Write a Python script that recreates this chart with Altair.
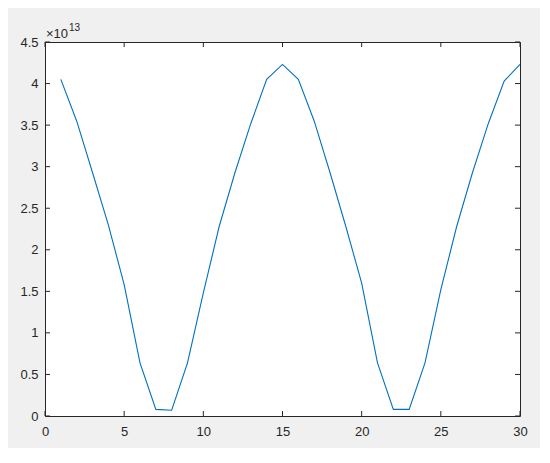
import altair as alt
import pandas as pd

# ---- data ----
x_vals = list(range(1, 31))
y_mantissa = [4.05, 3.55, 2.93, 2.30, 1.58, 0.64, 0.08, 0.07, 0.64, 1.48,
              2.28, 2.93, 3.52, 4.05, 4.23, 4.05, 3.55, 2.93, 2.28, 1.60,
              0.64, 0.08, 0.08, 0.64, 1.52, 2.28, 2.93, 3.52, 4.03, 4.23]
exponent = 13
x_tick_vals = [0, 5, 10, 15, 20, 25, 30]
y_tick_mantissa = [0, 0.5, 1, 1.5, 2, 2.5, 3, 3.5, 4, 4.5]

scale_factor = 10 ** exponent
df = pd.DataFrame({"x": x_vals, "y": [v * scale_factor for v in y_mantissa]})
xt = pd.DataFrame({"x": x_tick_vals})
yt = pd.DataFrame({"y": [v * scale_factor for v in y_tick_mantissa]})
one = pd.DataFrame({"k": [0]})

W, H = 475, 374
TXT = "#262626"
FONT = "Liberation Sans"

x_enc = alt.X("x:Q", scale=alt.Scale(domain=[0, 30], nice=False, zero=False),
              axis=alt.Axis(values=x_tick_vals, title=None, domain=False, ticks=False,
                            grid=False, labelPadding=9, labelFontSize=13,
                            labelFlush=False, labelColor=TXT, labelFont=FONT))
y_enc = alt.Y("y:Q", scale=alt.Scale(domain=[0, 4.5 * scale_factor], nice=False),
              axis=alt.Axis(values=[v * scale_factor for v in y_tick_mantissa],
                            labelExpr=f"format(datum.value / {scale_factor:.0f}, '~g')",
                            title=None, domain=False, ticks=False, grid=False,
                            labelFlush=False, labelPadding=7, labelFontSize=13,
                            labelColor=TXT, labelFont=FONT))

line = alt.Chart(df).mark_line(color="#0072BD", strokeWidth=1.1).encode(x=x_enc, y=y_enc)

TL = 5
bt = alt.Chart(xt).mark_rule(color=TXT, strokeWidth=1).encode(
    x=x_enc, y=alt.value(H), y2=alt.value(H - TL))
tt = alt.Chart(xt).mark_rule(color=TXT, strokeWidth=1).encode(
    x=x_enc, y=alt.value(0), y2=alt.value(TL))
lt = alt.Chart(yt).mark_rule(color=TXT, strokeWidth=1).encode(
    y=y_enc, x=alt.value(0), x2=alt.value(TL))
rt = alt.Chart(yt).mark_rule(color=TXT, strokeWidth=1).encode(
    y=y_enc, x=alt.value(W - TL), x2=alt.value(W))

t1 = alt.Chart(one).mark_text(align="left", baseline="alphabetic",
                              font=FONT, fontSize=13, color=TXT).encode(
    x=alt.value(1), y=alt.value(-4), text=alt.value("×10"))
t2 = alt.Chart(one).mark_text(align="left", baseline="alphabetic", font=FONT,
                              fontSize=10, color=TXT).encode(
    x=alt.value(24), y=alt.value(-11), text=alt.value(str(exponent)))

chart = alt.layer(line, bt, tt, lt, rt, t1, t2).properties(
    width=W, height=H,
    autosize=alt.AutoSizeParams(type="none"),
    padding={"left": 37, "top": 34, "right": 20, "bottom": 32},
    background="#f0f0f0",
).configure_view(fill="white", stroke=TXT, strokeWidth=1)

chart.save("out.html", embed_options={"renderer": "svg", "actions": False})
